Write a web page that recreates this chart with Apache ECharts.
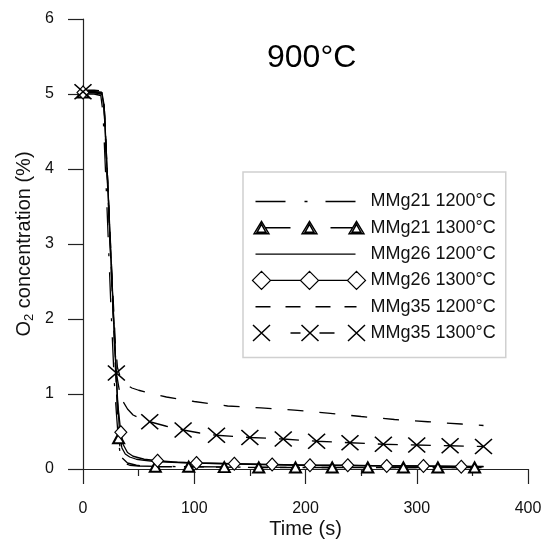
<!DOCTYPE html>
<html><head><meta charset="utf-8">
<script src="https://cdn.jsdelivr.net/npm/echarts@6/dist/echarts.min.js"></script>
<style>html,body{margin:0;padding:0;background:#fff}#c{width:541px;height:542px}</style>
</head><body><div id="c"></div>
<script>
// ---- data ----
const titleText = '900°C';
const xTickLabels = [0, 100, 200, 300, 400];
const yTickLabels = [0, 1, 2, 3, 4, 5, 6];
const seriesNames = ['MMg21 1200°C', 'MMg21 1300°C', 'MMg26 1200°C', 'MMg26 1300°C', 'MMg35 1200°C', 'MMg35 1300°C'];

const mmg21_1200_t = [0, 10, 16, 18, 21, 25, 28, 30, 32, 34, 37, 42, 50, 70, 100, 150, 200, 250, 300, 360];
const mmg21_1200_v = [5.0, 5.0, 4.98, 4.75, 3.7, 2.2, 1.2, 0.75, 0.35, 0.15, 0.08, 0.05, 0.04, 0.035, 0.03, 0.025, 0.02, 0.02, 0.02, 0.02];

const mmg21_1300_t = [0, 10, 17, 19, 22, 26, 29, 32, 35, 40, 48, 65, 95, 127, 158, 191, 224, 256, 288, 319, 352];
const mmg21_1300_v = [5.02, 5.02, 5.0, 4.8, 3.8, 2.45, 1.4, 0.41, 0.15, 0.08, 0.05, 0.03, 0.03, 0.025, 0.02, 0.02, 0.02, 0.02, 0.02, 0.02, 0.02];
const mmg21_1300_marks = [0, 32, 65, 95, 127, 158, 191, 224, 256, 288, 319, 352];

const mmg26_1200_t = [0, 10, 17, 19, 22, 26, 29, 31, 33, 35, 38, 42, 48, 55, 65, 80, 100, 130, 160, 200, 250, 300, 360];
const mmg26_1200_v = [5.03, 5.03, 5.02, 4.85, 3.9, 2.55, 1.55, 0.95, 0.45, 0.28, 0.2, 0.16, 0.13, 0.115, 0.1, 0.09, 0.08, 0.07, 0.06, 0.05, 0.045, 0.04, 0.035];

const mmg26_1300_t = [0, 10, 17, 19, 22, 26, 29, 31, 34, 36, 40, 45, 55, 67, 85, 102, 136, 170, 204, 238, 273, 306, 340, 360];
const mmg26_1300_v = [5.02, 5.02, 5.0, 4.8, 3.85, 2.5, 1.5, 0.9, 0.49, 0.33, 0.22, 0.17, 0.13, 0.11, 0.09, 0.08, 0.07, 0.06, 0.05, 0.05, 0.04, 0.04, 0.03, 0.03];
const mmg26_1300_marks = [0, 34, 67, 102, 136, 170, 204, 238, 273, 306, 340];

const mmg35_1200_t = [0, 10, 17, 19, 22, 26, 29, 31, 34, 38, 44, 50, 60, 75, 100, 130, 160, 190, 220, 250, 280, 310, 340, 360];
const mmg35_1200_v = [5.05, 5.05, 5.04, 4.85, 3.9, 2.6, 1.7, 1.35, 1.2, 1.13, 1.08, 1.05, 1.01, 0.96, 0.9, 0.84, 0.815, 0.785, 0.745, 0.7, 0.66, 0.63, 0.6, 0.58];

const mmg35_1300_t = [0, 10, 17, 19, 22, 25, 28, 30, 33, 36, 40, 45, 52, 60, 75, 90, 105, 120, 150, 180, 210, 240, 270, 300, 330, 360];
const mmg35_1300_v = [5.03, 5.03, 5.02, 4.85, 3.9, 2.8, 1.8, 1.28, 1.02, 0.9, 0.8, 0.72, 0.67, 0.63, 0.57, 0.52, 0.48, 0.45, 0.42, 0.4, 0.37, 0.35, 0.33, 0.32, 0.31, 0.3];
const mmg35_1300_marks = [0, 30, 60, 90, 120, 150, 180, 210, 240, 270, 300, 330, 360];

// ---- build ----
function build(ts, vs, marks) {
  return ts.map((t, i) => (marks && marks.indexOf(t) >= 0) ? { value: [t, vs[i]] } : { value: [t, vs[i]], symbol: 'none' });
}
const FONT = "'Liberation Sans', Arial, sans-serif";
const C = '#000';
const corner = 'M0 0L0 0M116 18L116 18';
function tri(c){return `M${c} 2.5L${c+7.5} 15L${c-7.5} 15Z M${c} 5.5L${c+4.5} 13.5L${c-4.5} 13.5Z`;}
function dia(c){return `M${c-9} 9L${c} 0L${c+9} 9L${c} 18Z`;}
function ex(c){return `M${c-8.5} 1L${c+8.5} 17M${c+8.5} 1L${c-8.5} 17`;}
const icons = [
  corner + 'M6 9L36 9M55 9L58 9M76 9L106 9',
  corner + tri(12) + tri(60) + tri(107) + 'M16 9L41 9M81 9L103 9',
  corner + 'M6 9L106 9',
  corner + dia(12) + dia(60) + dia(107) + 'M21 9L51 9M69 9L98 9',
  corner + 'M6 9L21 9M36 9L51 9M66 9L81 9M95 9L107 9',
  corner + ex(12) + ex(60.5) + ex(107) + 'M41 9L51 9M70 9L85 9'
];
const iconWidths = [1.4, 1.4, 1.4, 1.2, 1.4, 1.5];

const lineBase = { type: 'line', animation: false, smooth: false, showSymbol: true, z: 3 };
const series = [
  Object.assign({}, lineBase, { name: seriesNames[0], data: build(mmg21_1200_t, mmg21_1200_v),
    symbol: 'none', lineStyle: { color: C, width: 1.3, type: [30, 16, 3, 16] }, itemStyle: { color: C } }),
  Object.assign({}, lineBase, { name: seriesNames[1], data: build(mmg21_1300_t, mmg21_1300_v, mmg21_1300_marks),
    symbol: 'triangle', symbolSize: [11, 10], lineStyle: { color: C, width: 1.3, type: [20, 12] },
    itemStyle: { color: '#fff', borderColor: C, borderWidth: 2 } }),
  Object.assign({}, lineBase, { name: seriesNames[2], data: build(mmg26_1200_t, mmg26_1200_v),
    symbol: 'none', lineStyle: { color: C, width: 1.3, type: 'solid' }, itemStyle: { color: C } }),
  Object.assign({}, lineBase, { name: seriesNames[3], data: build(mmg26_1300_t, mmg26_1300_v, mmg26_1300_marks),
    symbol: 'diamond', symbolSize: [12, 13], lineStyle: { color: C, width: 1.3, type: 'solid' },
    itemStyle: { color: '#fff', borderColor: C, borderWidth: 1.1 } }),
  Object.assign({}, lineBase, { name: seriesNames[4], data: build(mmg35_1200_t, mmg35_1200_v),
    symbol: 'none', lineStyle: { color: C, width: 1.3, type: [16, 16] }, itemStyle: { color: C } }),
  Object.assign({}, lineBase, { name: seriesNames[5], data: build(mmg35_1300_t, mmg35_1300_v, mmg35_1300_marks),
    symbol: 'path://M0 0L10 10M10 0L0 10', symbolSize: [17, 15], lineStyle: { color: C, width: 1.3, type: [20, 13] },
    itemStyle: { color: C, borderColor: C, borderWidth: 1.5 } })
];

const chart = echarts.init(document.getElementById('c'), null, { renderer: 'canvas' });
chart.setOption({
  animation: false,
  backgroundColor: '#fff',
  textStyle: { fontFamily: FONT },
  title: { text: titleText, left: 262, top: 37, textStyle: { fontFamily: FONT, fontSize: 32, fontWeight: 'normal', color: '#000' } },
  grid: { left: 83, right: 13, top: 19, bottom: 73, containLabel: false, outerBoundsMode: 'none' },
  legend: {
    orient: 'vertical', left: 243, top: 172,
    padding: [18, 10, 13, 4],
    itemWidth: 116, itemHeight: 18, itemGap: 3.3, itemTextGap: 6,
    borderColor: '#d0d0d0', borderWidth: 1.5, backgroundColor: '#fff',
    selectedMode: false,
    textStyle: { fontFamily: FONT, fontSize: 18, color: '#111' },
    data: seriesNames.map((n, i) => ({ name: n, icon: 'path://' + icons[i],
      itemStyle: { color: 'none', borderColor: C, borderWidth: iconWidths[i], borderType: 'solid' } }))
  },
  xAxis: {
    type: 'value', min: xTickLabels[0], max: xTickLabels[xTickLabels.length - 1], interval: 100,
    name: 'Time (s)', nameLocation: 'middle', nameGap: 50, nameMoveOverlap: false,
    nameTextStyle: { fontFamily: FONT, fontSize: 20, color: '#111' },
    axisLine: { show: true, onZero: false, lineStyle: { color: '#222', width: 1.2 } },
    axisTick: { show: true, inside: false, length: 15, lineStyle: { color: '#222', width: 1.2 } },
    minorTick: { show: true, splitNumber: 2, length: 7, lineStyle: { color: '#222', width: 1.2 } },
    axisLabel: { margin: 32, fontFamily: FONT, fontSize: 16, color: '#111', showMinLabel: true, showMaxLabel: true },
    splitLine: { show: false }, minorSplitLine: { show: false }
  },
  yAxis: {
    type: 'value', min: yTickLabels[0], max: yTickLabels[yTickLabels.length - 1], interval: 1,
    name: '{a|O}{s|2}{a| concentration (%)}', nameLocation: 'middle', nameGap: 47, nameRotate: 90, nameMoveOverlap: false,
    nameTextStyle: { fontFamily: FONT, fontSize: 20, color: '#111',
      rich: { a: { fontFamily: FONT, fontSize: 20, color: '#111' }, s: { fontFamily: FONT, fontSize: 13, color: '#111', padding: [10, 0, 0, 0] } } },
    axisLine: { show: true, onZero: false, lineStyle: { color: '#222', width: 1.2 } },
    axisTick: { show: true, inside: false, length: 15, lineStyle: { color: '#222', width: 1.2 } },
    axisLabel: { margin: 29, fontFamily: FONT, fontSize: 16, color: '#111', showMinLabel: true, showMaxLabel: true },
    splitLine: { show: false }
  },
  series: series
});
</script></body></html>
